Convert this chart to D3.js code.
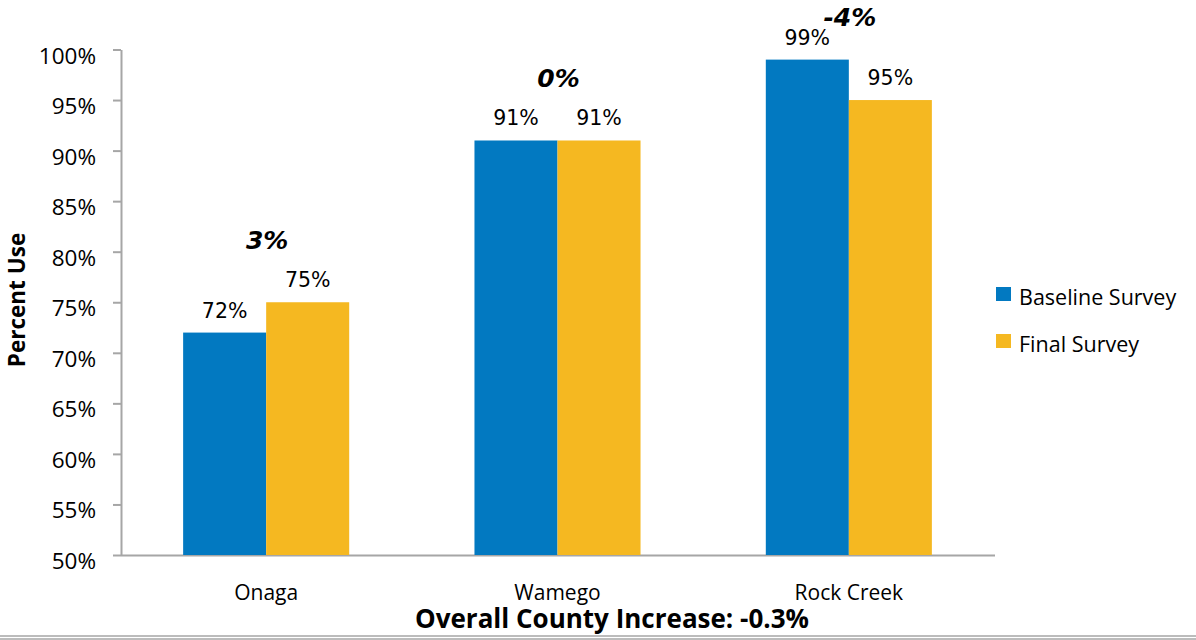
<!DOCTYPE html>
<html><head><meta charset="utf-8">
<script src="https://cdn.jsdelivr.net/npm/d3@7"></script>
<style>body{margin:0;background:#fff}svg{display:block}</style>
</head><body>
<svg id="c" width="1196" height="640"></svg>
<script>
const categories = ["Onaga", "Wamego", "Rock Creek"];
const seriesNames = ["Baseline Survey", "Final Survey"];
const baseline = [72, 91, 99];
const finalSurvey = [75, 91, 95];
const changeLabels = ["3%", "0%", "-4%"];
const yTicks = [50, 55, 60, 65, 70, 75, 80, 85, 90, 95, 100];
const colors = ["#0279C1", "#F5B821"];
const footer = "Overall County Increase: -0.3%";

const svg = d3.select("#c");
const axisFont = "'Open Sans', sans-serif";
const labelFont = "'DejaVu Sans', sans-serif";

const y = d3.scaleLinear().domain([50, 100]).range([555, 49.5]);
const x0 = d3.scaleBand().domain(categories).range([120.5, 994.5]).paddingInner(0.43).paddingOuter(0.215);
const x1 = d3.scaleBand().domain(seriesNames).range([0, x0.bandwidth()]);

// axes
const yAxis = d3.axisLeft(y).tickValues(yTicks).tickFormat(d => d + "%").tickSize(8).tickSizeOuter(0);
const gy = svg.append("g").attr("transform", "translate(121,0)").call(yAxis);
gy.select(".domain").attr("stroke", "#a6a6a6").attr("stroke-width", 2);
gy.selectAll(".tick line").attr("stroke", "#a6a6a6").attr("stroke-width", 2);
gy.selectAll(".tick text").attr("x", -25).attr("dy", "0.6em").attr("font-family", axisFont).attr("font-size", 22.5).attr("fill", "#000");

const xAxis = d3.axisBottom(x0).tickSize(0).tickSizeOuter(0);
const gx = svg.append("g").attr("transform", "translate(0,555)").call(xAxis);
gx.select(".domain").attr("stroke", "#a6a6a6").attr("stroke-width", 2);
gx.selectAll(".tick text").attr("y", 45).attr("dy", 0).attr("font-family", axisFont).attr("font-size", 21).attr("fill", "#000");

// bars
const rows = categories.map((c, i) => ({cat: c, vals: [baseline[i], finalSurvey[i]], change: changeLabels[i]}));
const groups = svg.append("g").selectAll("g").data(rows).join("g")
  .attr("transform", d => `translate(${x0(d.cat)},0)`);
groups.selectAll("rect").data(d => d.vals.map((v, j) => ({v, s: seriesNames[j], j})))
  .join("rect")
  .attr("x", d => x1(d.s)).attr("width", x1.bandwidth())
  .attr("y", d => y(d.v)).attr("height", d => y(50) - y(d.v))
  .attr("fill", d => colors[d.j]);
groups.selectAll("text.val").data(d => d.vals.map((v, j) => ({v, s: seriesNames[j]})))
  .join("text").attr("class", "val")
  .attr("x", d => x1(d.s) + x1.bandwidth() / 2).attr("y", d => y(d.v) - 15)
  .attr("text-anchor", "middle").attr("font-family", labelFont).attr("font-size", 20.5).attr("fill", "#000")
  .text(d => d.v + "%");
groups.append("text")
  .attr("x", x0.bandwidth() / 2 + 1)
  .attr("y", d => Math.max(26, y(d3.max(d.vals)) - 53))
  .attr("text-anchor", "middle").attr("font-family", labelFont).attr("font-size", 25)
  .attr("font-weight", "bold").attr("font-style", "italic").attr("fill", "#000")
  .text(d => d.change);

// y title
svg.append("text").attr("transform", "translate(25,300) rotate(-90)")
  .attr("text-anchor", "middle").attr("font-family", axisFont).attr("font-weight", "bold").attr("font-size", 22.5)
  .text("Percent Use");

// legend
const lg = svg.append("g").selectAll("g").data(seriesNames).join("g")
  .attr("transform", (d, i) => `translate(996,${287 + i * 47})`);
lg.append("rect").attr("width", 15).attr("height", 14).attr("fill", (d, i) => colors[i]);
lg.append("text").attr("x", 23).attr("y", 18).attr("font-family", axisFont).attr("font-size", 21.5).text(d => d);

// footer
svg.append("text").attr("x", 612).attr("y", 628).attr("text-anchor", "middle")
  .attr("font-family", axisFont).attr("font-weight", "bold").attr("font-size", 26).text(footer);

svg.append("line").attr("x1", 0).attr("x2", 1196).attr("y1", 636).attr("y2", 636).attr("stroke", "#a6a6a6").attr("stroke-width", 1.5);
svg.append("line").attr("x1", 0).attr("x2", 1196).attr("y1", 639).attr("y2", 639).attr("stroke", "#a6a6a6").attr("stroke-width", 1.5);
</script>
</body></html>
